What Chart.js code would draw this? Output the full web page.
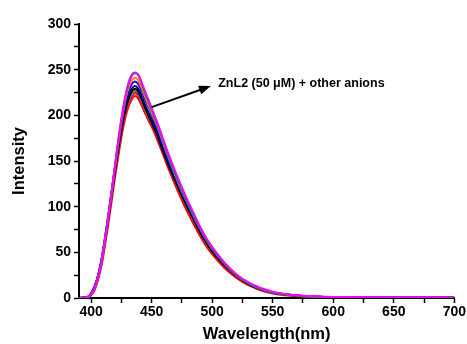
<!DOCTYPE html>
<html>
<head>
<meta charset="utf-8">
<script src="https://cdn.jsdelivr.net/npm/chart.js@4"></script>
<style>
  html, body { margin: 0; padding: 0; background: #fff; }
  #wrap { width: 467px; height: 344px; }
</style>
</head>
<body>
<div id="wrap"><canvas id="spectra"></canvas></div>
<script>
const wavelengths = [390,396,398,400,403,406,409,412,415,418,421,424,427,430,433,436,439,442,445,448,451,455,460,465,470,475,480,485,490,495,500,510,520,530,540,550,560,575,600,650,700];

const magentaVals = [0,0.5,1.5,4,11,24,43,69,97,127,158,187,211,230,242,246,244,235,225,215,205,191,172,154,137,121,106,92,78,66,56,39,26,17,11,7,4.5,2.5,1.2,0.5,0.4];
const tealVals    = [0,0.5,1.5,4,11,24,43,69,97,127,158,187,212,231,243,247,244,234,223,213,203,189,170,151,134,118,103,89,76,64,54,38,25,16,10,6,4,2,1,0.4,0.3];
const orangeVals  = [0,0.5,1.5,4,11,24,42,68,96,125,156,184,208,226,237,241,238,229,219,209,200,187,168,150,133,117,103,89,76,64,54,38,25,16,10,6,4,2,1,0.4,0.3];
const blueVals    = [0,0.8,2,5,13,26,45,71,98,127,156,183,206,223,233,237,234,226,216,207,198,184,166,148,132,116,102,88,75,64,54,37,25,16,10,6,4,2,1,0.4,0.3];
const navyVals    = [0,0.8,2,5,13,26,45,70,97,126,154,180,202,218,228,232,229,220,210,201,193,180,162,145,129,114,100,87,74,63,53,37,25,16,10,6,4,2,1,0.4,0.3];
const blackVals   = [0,0.5,1.5,4,11,24,42,67,94,122,150,176,198,214,225,229,226,217,207,198,189,177,159,142,127,112,98,85,72,61,51,36,24,15,9.5,6,4,2,1,0.4,0.3];
const oliveVals   = [0,0.5,1.5,4,11,24,42,67,94,122,150,175,197,212,222,227,224,215,205,197,189,177,159,143,127,112,99,85,73,62,52,36,24,16,10,6,4,2,1,0.4,0.3];
const purpleVals  = [0,0.6,1.8,4.5,12,25,43,68,95,123,151,176,197,212,222,226,223,215,206,198,190,178,160,144,128,113,99,86,73,62,52,36,24,16,10,6,4,2,1,0.4,0.3];
const pinkVals    = [0,0.5,1.5,4,11,23,41,66,93,121,148,173,194,209,219,224,221,213,204,196,188,176,159,142,127,112,98,85,72,61,51,36,24,15,9.5,6,4,2,1,0.4,0.3];
const redVals     = [0,0.3,1,3,9,21,38,62,88,116,143,168,190,206,216,221,218,210,201,193,185,172,155,138,122,107,93,80,68,57,48,33,22,14,8.5,5,3,1.5,0.7,0.3,0.2];

const seriesList = [
  { name: 'magenta', color: '#ff00ff', values: magentaVals },
  { name: 'teal', color: '#008080', values: tealVals },
  { name: 'orange', color: '#ff8000', values: orangeVals },
  { name: 'blue', color: '#0000ff', values: blueVals },
  { name: 'navy', color: '#000080', values: navyVals },
  { name: 'black', color: '#000000', values: blackVals },
  { name: 'olive', color: '#808000', values: oliveVals },
  { name: 'purple', color: '#800080', values: purpleVals },
  { name: 'pink', color: '#ff0080', values: pinkVals },
  { name: 'red', color: '#ff0000', values: redVals }
];

const xTicks = [400,425,450,475,500,525,550,575,600,625,650,675,700];
const yTicks = [0,25,50,75,100,125,150,175,200,225,250,275,300];

const noteText = 'ZnL2 (50 \u03bcM) + other anions';
const arrowFrom = { x: 450, y: 209 };
const arrowTo = { x: 499, y: 232 };
const notePos = { x: 505, y: 235 };

const FONT = "'Liberation Sans', Arial, sans-serif";

const annotationPlugin = {
  id: 'arrowNote',
  afterDatasetsDraw(chart) {
    const { ctx, scales: { x, y } } = chart;
    const x1 = x.getPixelForValue(arrowFrom.x), y1 = y.getPixelForValue(arrowFrom.y);
    const x2 = x.getPixelForValue(arrowTo.x), y2 = y.getPixelForValue(arrowTo.y);
    const ang = Math.atan2(y2 - y1, x2 - x1);
    ctx.save();
    ctx.strokeStyle = '#000';
    ctx.fillStyle = '#000';
    ctx.lineWidth = 2;
    ctx.beginPath();
    ctx.moveTo(x1, y1);
    ctx.lineTo(x2 - 8 * Math.cos(ang), y2 - 8 * Math.sin(ang));
    ctx.stroke();
    ctx.beginPath();
    ctx.moveTo(x2, y2);
    ctx.lineTo(x2 - 12 * Math.cos(ang) + 4.5 * Math.sin(ang), y2 - 12 * Math.sin(ang) - 4.5 * Math.cos(ang));
    ctx.lineTo(x2 - 12 * Math.cos(ang) - 4.5 * Math.sin(ang), y2 - 12 * Math.sin(ang) + 4.5 * Math.cos(ang));
    ctx.closePath();
    ctx.fill();
    ctx.font = 'bold 12.5px ' + FONT;
    ctx.textAlign = 'left';
    ctx.textBaseline = 'middle';
    ctx.fillText(noteText, x.getPixelForValue(notePos.x), y.getPixelForValue(notePos.y));
    ctx.restore();
  }
};

const datasets = seriesList.map(s => ({
  label: s.name,
  data: wavelengths.map((w, i) => ({ x: w, y: s.values[i] })),
  borderColor: s.color,
  borderWidth: 2,
  pointRadius: 0,
  tension: 0.3,
  fill: false
}));

new Chart(document.getElementById('spectra'), {
  type: 'line',
  data: { datasets },
  plugins: [annotationPlugin],
  options: {
    responsive: true,
    maintainAspectRatio: false,
    animation: false,
    layout: { padding: { top: 24, right: 12, left: 10, bottom: 0 } },
    plugins: { legend: { display: false }, tooltip: { enabled: false } },
    scales: {
      x: {
        type: 'linear',
        min: 390,
        max: 700,
        afterBuildTicks: (axis) => { axis.ticks = xTicks.map(v => ({ value: v })); },
        afterFit: (axis) => { axis.height = 46; },
        border: { display: true, color: '#000', width: 2 },
        grid: {
          drawOnChartArea: false,
          drawTicks: true,
          tickLength: 5,
          color: '#000',
          tickWidth: 1.5
        },
        ticks: {
          color: '#000',
          font: { family: FONT, weight: 'bold', size: 14 },
          padding: 1,
          maxRotation: 0,
          autoSkip: false,
          callback: (v) => (v % 50 === 0 ? String(v) : '')
        },
        title: {
          display: true,
          text: 'Wavelength(nm)',
          color: '#000',
          font: { family: FONT, weight: 'bold', size: 16.5 },
          padding: { top: 0, bottom: 0 }
        }
      },
      y: {
        min: 0,
        max: 300,
        afterBuildTicks: (axis) => { axis.ticks = yTicks.map(v => ({ value: v })); },
        afterFit: (axis) => { axis.width = 69; },
        border: { display: true, color: '#000', width: 2 },
        grid: {
          drawOnChartArea: false,
          drawTicks: true,
          tickLength: 5,
          color: '#000',
          tickWidth: 1.5
        },
        ticks: {
          color: '#000',
          font: { family: FONT, weight: 'bold', size: 14 },
          padding: 3,
          autoSkip: false,
          callback: (v) => (v % 50 === 0 ? String(v) : '')
        },
        title: {
          display: true,
          text: 'Intensity',
          color: '#000',
          font: { family: FONT, weight: 'bold', size: 16.5 },
          padding: { top: 0, bottom: 8 }
        }
      }
    }
  }
});
</script>
</body>
</html>
